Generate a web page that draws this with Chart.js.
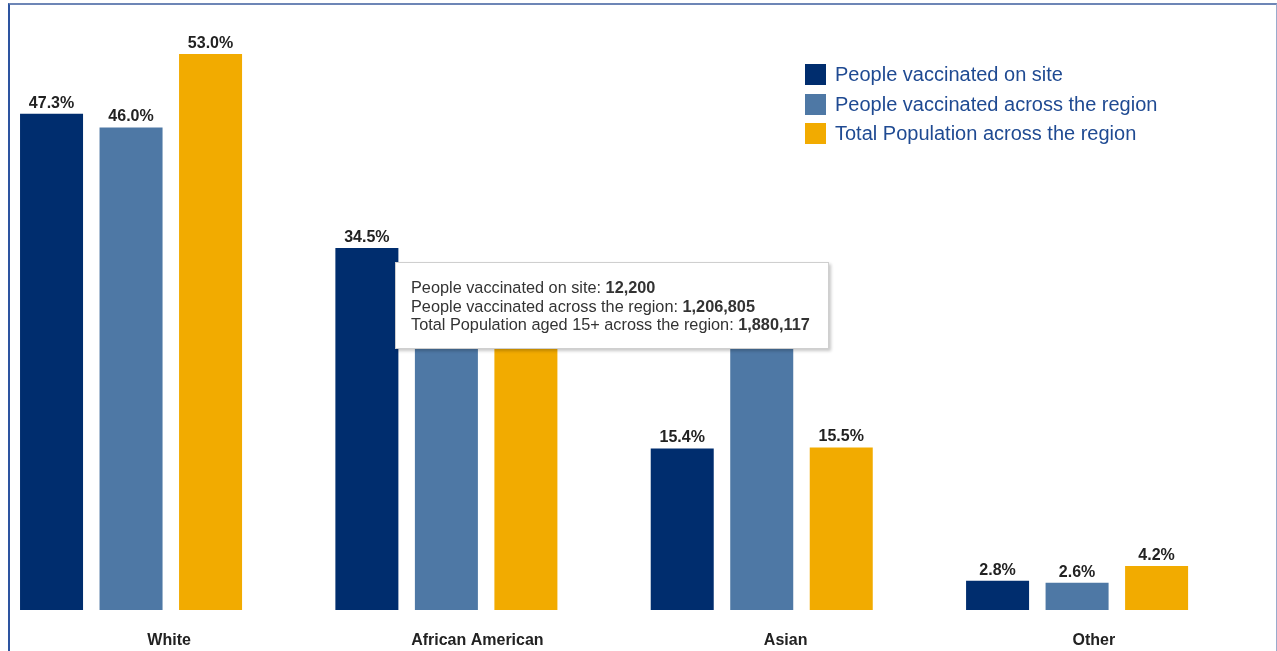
<!DOCTYPE html>
<html>
<head>
<meta charset="utf-8">
<script src="https://cdn.jsdelivr.net/npm/chart.js@4/dist/chart.umd.min.js"></script>
<style>
  html, body { margin: 0; padding: 0; background: #ffffff; }
  body { width: 1277px; height: 651px; overflow: hidden; position: relative; font-family: "Liberation Sans", Arial, sans-serif; }
  #frame { position: absolute; left: 8px; top: 3px; width: 1266px; height: 700px;
           border-left: 2px solid #2d54a0; border-top: 2px solid #6d86b6; border-right: 1px solid #9aabcd; }
  #wrap { position: absolute; left: 0; top: 0; width: 1277px; height: 651px; }
  #wrap canvas { display: block; }
  #legend { position: absolute; left: 805px; top: 60px; }
  .lg-row { display: flex; align-items: center; height: 29.5px; }
  .lg-box { width: 21px; height: 21px; margin-right: 9px; }
  .lg-text { font-size: 20px; color: #1f4a92; white-space: nowrap; }
  #tip { position: absolute; left: 395px; top: 262px; width: 432px; height: 85px; background: #fff;
         border: 1px solid #cfcfcf; box-shadow: 2px 2px 3px rgba(0,0,0,0.22); box-sizing: content-box; }
  #tip .tl { position: absolute; left: 15px; font-size: 16.3px; color: #333; white-space: nowrap; line-height: 18.5px; }
</style>
</head>
<body>
<div id="wrap"><canvas id="c" width="1277" height="651"></canvas></div>
<div id="frame"></div>
<div id="legend"></div>
<div id="tip"></div>
<script>
// ---- data ----
const categories = ["White", "African American", "Asian", "Other"];
const seriesNames = ["People vaccinated on site", "People vaccinated across the region", "Total Population across the region"];
const vaccinatedOnSite = [47.3, 34.5, 15.4, 2.8];
const vaccinatedRegion = [46.0, 26.0, 25.4, 2.6];
const populationRegion = [53.0, 27.3, 15.5, 4.2];
const seriesColors = ["#002d6e", "#4e78a5", "#f2ab00"];
const tooltipLabels = ["People vaccinated on site", "People vaccinated across the region", "Total Population aged 15+ across the region"];
const tooltipValues = ["12,200", "1,206,805", "1,880,117"];

const seriesValues = [vaccinatedOnSite, vaccinatedRegion, populationRegion];
const toPoints = arr => arr.map((v, i) => ({ x: i, y: v }));

const valueLabels = {
  id: 'valueLabels',
  afterDatasetsDraw(chart) {
    const ctx = chart.ctx;
    ctx.save();
    ctx.font = 'bold 16px "Liberation Sans", Arial, sans-serif';
    ctx.fillStyle = '#222222';
    ctx.textAlign = 'center';
    ctx.textBaseline = 'alphabetic';
    chart.data.datasets.forEach((ds, di) => {
      const meta = chart.getDatasetMeta(di);
      meta.data.forEach((bar, i) => {
        ctx.fillText(ds.data[i].y.toFixed(1) + '%', bar.x, bar.y - 6);
      });
    });
    ctx.restore();
  }
};

const chart = new Chart(document.getElementById('c'), {
  type: 'bar',
  data: {
    labels: categories,
    datasets: seriesValues.map((vals, k) => ({
      label: seriesNames[k],
      data: toPoints(vals),
      backgroundColor: seriesColors[k],
      borderWidth: 0,
      categoryPercentage: 0.7564,
      barPercentage: 0.7925,
      xAxisID: 'x'
    }))
  },
  options: {
    responsive: false,
    animation: false,
    events: [],
    layout: { padding: { left: 15, right: 29, top: 22.6, bottom: 0 } },
    plugins: { legend: { display: false }, tooltip: { enabled: false } },
    scales: {
      x: {
        type: 'linear',
        display: false,
        offset: false,
        min: -0.368,
        max: 3.542,
        afterBuildTicks: (scale) => { scale.ticks = categories.map((c, i) => ({ value: i })); },
        afterFit: (scale) => { scale.height = 0; }
      },
      x2: {
        type: 'category',
        labels: categories,
        position: 'bottom',
        offset: true,
        grid: { display: false, drawTicks: false },
        border: { display: false },
        afterFit: (scale) => { scale.height = 41; },
        ticks: {
          padding: 21,
          color: '#222222',
          font: { family: '"Liberation Sans", Arial, sans-serif', size: 16, weight: 'bold', lineHeight: 1.2 },
          maxRotation: 0,
          autoSkip: false
        }
      },
      y: {
        display: false,
        min: 0,
        max: 56
      }
    }
  },
  plugins: [valueLabels]
});

// legend
const lg = document.getElementById('legend');
seriesNames.forEach((n, k) => {
  const row = document.createElement('div');
  row.className = 'lg-row';
  const b = document.createElement('div');
  b.className = 'lg-box';
  b.style.background = seriesColors[k];
  const t = document.createElement('div');
  t.className = 'lg-text';
  t.textContent = n;
  row.appendChild(b); row.appendChild(t);
  lg.appendChild(row);
});

// static tooltip
const tip = document.getElementById('tip');
tooltipLabels.forEach((l, k) => {
  const d = document.createElement('div');
  d.className = 'tl';
  d.style.top = (15 + k * 18.5) + 'px';
  d.innerHTML = l + ': <b>' + tooltipValues[k] + '</b>';
  tip.appendChild(d);
});
</script>
</body>
</html>
